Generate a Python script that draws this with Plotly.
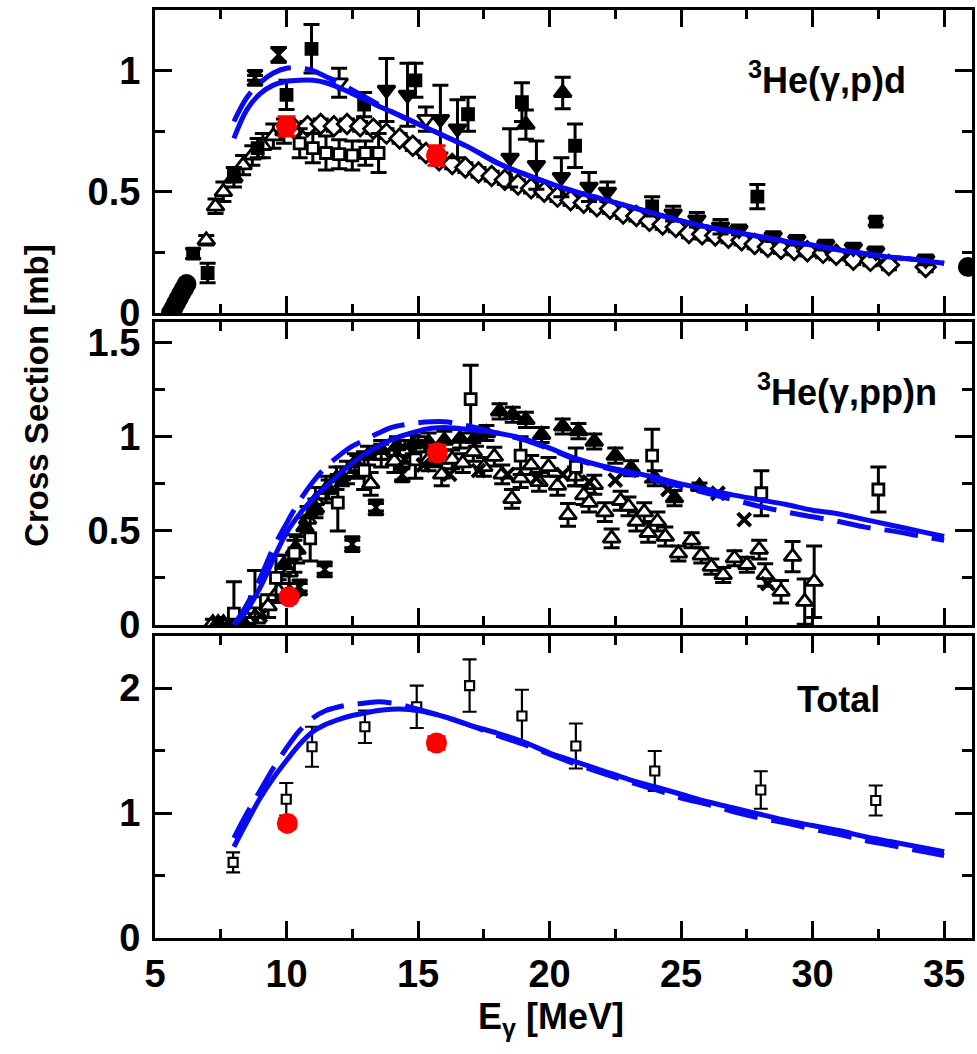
import plotly.graph_objects as go

# ---------------- Panel 1 : 3He(g,p)d ----------------
p1_fcirc_E = [5.6, 5.7, 5.8, 5.9, 6.0, 6.1, 6.2, 35.9]
p1_fcirc_v = [0.0, 0.02, 0.04, 0.06, 0.08, 0.10, 0.12, 0.19]

p1_fsq_E = [6.45, 7.0, 8.0, 8.9, 10.0, 10.95, 12.95, 14.9, 16.9, 18.95, 20.97, 23.9, 27.9, 32.4]
p1_fsq_v = [0.245, 0.165, 0.57, 0.68, 0.90, 1.09, 0.86, 0.96, 0.82, 0.87, 0.69, 0.44, 0.48, 0.377]
p1_fsq_e = [0.02, 0.04, 0.03, 0.04, 0.06, 0.10, 0.05, 0.07, 0.07, 0.08, 0.09, 0.04, 0.05, 0.015]

p1_otri_E = [6.95, 7.3, 7.6, 8.0, 8.35, 8.7, 9.1, 9.5, 9.9]
p1_otri_v = [0.30, 0.44, 0.50, 0.56, 0.61, 0.65, 0.69, 0.73, 0.75]
p1_otri_e = [0.02, 0.03, 0.04, 0.04, 0.04, 0.04, 0.05, 0.05, 0.05]

p1_hour_E = [8.8, 9.7]
p1_hour_v = [0.97, 1.065]
p1_hour_e = [0.01, 0.03]

p1_odtri_E = [12.0, 15.3]
p1_odtri_v = [0.95, 0.80]
p1_odtri_e = [0.06, 0.05]

p1_fdtri_E = [13.8, 14.6, 15.85, 16.5, 18.5, 19.5, 20.45, 21.5, 22.2, 24.7, 25.6, 26.5,
              27.2, 28.5, 29.4, 30.5, 31.55, 32.4, 34.3]
p1_fdtri_v = [0.92, 0.90, 0.80, 0.76, 0.64, 0.61, 0.56, 0.52, 0.50, 0.41, 0.385, 0.356,
              0.343, 0.315, 0.30, 0.28, 0.268, 0.252, 0.219]
p1_fdtri_e = [0.13, 0.13, 0.14, 0.12, 0.12, 0.10, 0.08, 0.06, 0.04, 0.03, 0.03, 0.03,
              0.02, 0.02, 0.02, 0.02, 0.02, 0.02, 0.02]

p1_futri_E = [19.1, 20.5]
p1_futri_v = [0.777, 0.908]
p1_futri_e = [0.06, 0.065]

p1_osq_E = [10.5, 11.0, 11.5, 12.0, 12.5, 13.0, 13.5]
p1_osq_v = [0.70, 0.68, 0.66, 0.655, 0.65, 0.66, 0.66]
p1_osq_e = [0.06, 0.06, 0.07, 0.06, 0.06, 0.05, 0.08]

p1_odia_E = [10.3, 10.8, 11.3, 11.8, 12.3, 12.8, 13.3, 13.8, 14.3, 14.8, 15.3, 15.8, 16.3,
             16.8, 17.3, 17.8, 18.3, 18.8, 19.3, 19.8, 20.3, 20.8, 21.3, 21.8, 22.3, 22.8,
             23.3, 23.8, 24.3, 24.8, 25.3, 25.8, 26.3, 26.8, 27.3, 27.8, 28.3, 28.8, 29.3,
             29.8, 30.4, 30.9, 31.55, 32.2, 32.9, 34.3]
p1_odia_v = [0.76, 0.77, 0.78, 0.77, 0.78, 0.77, 0.76, 0.74, 0.72, 0.69, 0.66, 0.63, 0.615,
             0.60, 0.58, 0.565, 0.55, 0.53, 0.515, 0.50, 0.48, 0.465, 0.455, 0.44, 0.43, 0.41,
             0.40, 0.38, 0.365, 0.355, 0.33, 0.325, 0.32, 0.31, 0.30, 0.285, 0.273, 0.265, 0.26,
             0.255, 0.248, 0.24, 0.22, 0.215, 0.198, 0.19]
p1_odia_e = [0.02] * len(p1_odia_E)

p1_red_E = [10.0, 15.7]
p1_red_v = [0.77, 0.65]
p1_red_e = [0.04, 0.04]

p1_solid_E = [8.0, 8.5, 9.0, 9.5, 10.0, 10.5, 11.0, 11.5, 12.0, 12.5, 13.0, 13.5, 14.0, 14.5,
              15.0, 16.0, 17.0, 18.0, 19.0, 20.0, 21.0, 22.0, 23.0, 24.0, 25.0, 26.0, 27.0,
              28.0, 29.0, 30.0, 31.0, 32.0, 33.0, 34.0, 35.0]
p1_solid_v = [0.72, 0.84, 0.905, 0.94, 0.955, 0.96, 0.96, 0.95, 0.93, 0.905, 0.88, 0.853, 0.83,
              0.805, 0.78, 0.73, 0.68, 0.62, 0.575, 0.535, 0.50, 0.47, 0.44, 0.41, 0.38, 0.355,
              0.335, 0.315, 0.295, 0.28, 0.26, 0.245, 0.23, 0.22, 0.205]
p1_dash_E = [8.0, 8.5, 9.0, 9.5, 10.0, 10.5, 11.0, 11.5, 12.0, 12.5, 13.0, 13.5, 14.0, 14.5,
             15.0, 16.0, 17.0, 18.0, 19.0, 20.0, 21.0, 22.0, 23.0, 24.0, 25.0, 26.0, 27.0,
             28.0, 29.0, 30.0, 31.0, 32.0, 33.0, 34.0, 35.0]
p1_dash_v = [0.79, 0.89, 0.95, 0.99, 1.01, 1.01, 1.0, 0.975, 0.95, 0.92, 0.89, 0.86, 0.83,
             0.805, 0.78, 0.73, 0.68, 0.62, 0.575, 0.535, 0.50, 0.47, 0.44, 0.41, 0.38, 0.355,
             0.335, 0.315, 0.295, 0.28, 0.26, 0.245, 0.23, 0.22, 0.205]

# ---------------- Panel 2 : 3He(g,pp)n ----------------
p2_otri_E = [7.2, 7.6, 8.1, 8.5, 8.9, 9.3, 9.7, 10.1, 10.4, 10.8, 11.1, 11.5, 11.9, 12.3, 12.7,
             13.2, 13.6, 14.1, 14.5, 15.0, 15.4, 15.9, 16.3, 16.7, 17.1, 17.5, 17.9, 18.2,
             18.57, 18.9, 19.3, 19.6, 19.96, 20.3, 20.7, 20.97, 21.3, 21.5, 21.7, 22.1, 22.36,
             22.7, 23.0, 23.3, 23.6, 23.75, 24.1, 24.4, 24.9, 25.4, 25.77, 26.15, 26.6, 27.03,
             27.5, 27.97, 28.2, 28.8, 29.24, 29.7, 30.06]
p2_otri_v = [0.01, 0.01, 0.02, 0.03, 0.06, 0.10, 0.18, 0.28, 0.40, 0.56, 0.66, 0.72, 0.78, 0.81,
             0.84, 0.75, 0.90, 0.87, 0.92, 0.94, 0.88, 0.80, 0.88, 0.86, 0.92, 0.84, 0.895, 0.80,
             0.67, 0.78, 0.85, 0.76, 0.84, 0.74, 0.585, 0.79, 0.69, 0.65, 0.745, 0.60, 0.46,
             0.66, 0.63, 0.55, 0.60, 0.49, 0.55, 0.47, 0.38, 0.45, 0.37, 0.31, 0.266, 0.355,
             0.32, 0.40, 0.266, 0.177, 0.363, 0.124, 0.23]
p2_otri_e = [0.02, 0.02, 0.03, 0.03, 0.05, 0.06, 0.06, 0.06, 0.07, 0.07, 0.07, 0.07, 0.06, 0.06,
             0.06, 0.06, 0.06, 0.06, 0.06, 0.06, 0.06, 0.06, 0.05, 0.05, 0.05, 0.05, 0.05, 0.05,
             0.05, 0.05, 0.05, 0.05, 0.05, 0.05, 0.06, 0.05, 0.05, 0.05, 0.05, 0.05, 0.05,
             0.05, 0.05, 0.05, 0.05, 0.05, 0.05, 0.05, 0.04, 0.04, 0.04, 0.04, 0.04, 0.04,
             0.04, 0.05, 0.06, 0.06, 0.08, 0.12, 0.19]

p2_ftri_E = [7.4, 7.9, 8.3, 9.9, 10.3, 10.7, 11.1, 11.6, 12.1, 12.6, 13.1, 13.6, 14.2, 14.8,
             15.4, 16.0, 16.6, 17.2, 17.6, 18.1, 18.6, 19.1, 19.7, 20.5, 21.1, 21.7, 22.5,
             23.1, 24.0, 24.75, 25.7]
p2_ftri_v = [0.01, 0.01, 0.02, 0.32, 0.40, 0.52, 0.62, 0.72, 0.79, 0.86, 0.90, 0.93, 0.95, 0.96,
             0.97, 0.98, 0.99, 1.00, 1.02, 1.135, 1.117, 1.09, 1.01, 1.055, 1.03, 0.975, 0.90,
             0.833, 0.78, 0.674, 0.735]
p2_ftri_e = [0.02, 0.02, 0.02, 0.05, 0.05, 0.05, 0.05, 0.05, 0.05, 0.05, 0.05, 0.05, 0.05, 0.05,
             0.05, 0.05, 0.05, 0.05, 0.04, 0.04, 0.04, 0.04, 0.04, 0.04, 0.04, 0.04, 0.04,
             0.04, 0.04, 0.04, 0.02]

p2_osq_E = [8.0, 8.8, 9.6, 10.3, 10.9, 11.95, 12.95, 14.9, 17.0, 18.9, 21.0, 23.9, 28.05, 32.5]
p2_osq_v = [0.06, 0.12, 0.25, 0.38, 0.46, 0.65, 0.82, 0.88, 1.20, 0.90, 0.84, 0.90, 0.70, 0.72]
p2_osq_e = [0.17, 0.17, 0.12, 0.10, 0.12, 0.15, 0.10, 0.10, 0.18, 0.10, 0.10, 0.14, 0.12, 0.12]

p2_hour_E = [10.5, 11.45, 12.5, 13.4, 14.4, 15.6]
p2_hour_v = [0.20, 0.295, 0.43, 0.625, 0.80, 0.88]
p2_hour_e = [0.02, 0.02, 0.02, 0.02, 0.03, 0.03]

p2_x_E = [9.0, 10.3, 14.5, 15.2, 16.2, 17.3, 18.4, 19.5, 20.5, 21.5, 22.5, 24.5, 26.4, 27.4, 28.3]
p2_x_v = [0.05, 0.18, 0.88, 0.85, 0.80, 0.82, 0.80, 0.78, 0.80, 0.76, 0.77, 0.72, 0.70, 0.56, 0.22]

p2_red_E = [10.1, 15.73]
p2_red_v = [0.15, 0.915]
p2_red_e = [0.0, 0.04]

p2_solid_E = [8.0, 8.5, 9.0, 9.5, 10.0, 10.5, 11.0, 11.5, 12.0, 12.5, 13.0, 13.5, 14.0, 14.5,
              15.0, 15.5, 16.0, 16.5, 17.0, 18.0, 19.0, 20.0, 21.0, 22.0, 23.0, 24.0, 25.0,
              26.0, 27.0, 28.0, 29.0, 30.0, 31.0, 32.0, 33.0, 34.0, 35.0]
p2_solid_v = [0.0, 0.08, 0.20, 0.35, 0.49, 0.59, 0.67, 0.735, 0.80, 0.86, 0.91, 0.95, 0.985,
              1.01, 1.03, 1.045, 1.05, 1.045, 1.037, 1.02, 0.99, 0.94, 0.885, 0.845, 0.815,
              0.785, 0.75, 0.72, 0.69, 0.665, 0.64, 0.61, 0.59, 0.56, 0.53, 0.50, 0.47]
p2_dash_E = [8.0, 8.5, 9.0, 9.5, 10.0, 10.5, 11.0, 11.5, 12.0, 12.5, 13.0, 13.5, 14.0, 14.5,
             15.0, 15.5, 16.0, 16.5, 17.0, 18.0, 19.0, 20.0, 21.0, 22.0, 23.0, 24.0, 25.0,
             26.0, 27.0, 28.0, 29.0, 30.0, 31.0, 32.0, 33.0, 34.0, 35.0]
p2_dash_v = [0.0, 0.11, 0.25, 0.41, 0.54, 0.66, 0.76, 0.84, 0.90, 0.95, 0.985, 1.02, 1.05,
             1.065, 1.075, 1.08, 1.08, 1.07, 1.055, 1.02, 0.985, 0.935, 0.88, 0.84, 0.805,
             0.77, 0.735, 0.70, 0.665, 0.63, 0.60, 0.575, 0.55, 0.52, 0.50, 0.475, 0.45]

# ---------------- Panel 3 : Total ----------------
p3_osq_E = [7.97, 9.99, 10.97, 12.98, 14.95, 16.96, 18.95, 21.0, 24.0, 28.03, 32.4]
p3_osq_v = [0.605, 1.11, 1.53, 1.69, 1.85, 2.02, 1.776, 1.536, 1.336, 1.184, 1.10]
p3_osq_e = [0.08, 0.13, 0.16, 0.13, 0.17, 0.21, 0.21, 0.18, 0.16, 0.15, 0.12]

p3_red_E = [10.03, 15.7]
p3_red_v = [0.917, 1.56]
p3_red_e = [0.04, 0.05]

p3_solid_E = [8.0, 8.5, 9.0, 9.5, 10.0, 10.5, 11.0, 11.5, 12.0, 12.5, 13.0, 13.5, 14.0, 14.5,
              15.0, 16.0, 17.0, 18.0, 19.0, 20.0, 21.0, 22.0, 23.0, 24.0, 25.0, 26.0, 27.0,
              28.0, 29.0, 30.0, 31.0, 32.0, 33.0, 34.0, 35.0]
p3_solid_v = [0.73, 0.93, 1.12, 1.28, 1.42, 1.55, 1.65, 1.71, 1.75, 1.78, 1.80, 1.82, 1.83, 1.83,
              1.82, 1.77, 1.70, 1.64, 1.57, 1.48, 1.41, 1.34, 1.27, 1.21, 1.15, 1.09, 1.04,
              0.99, 0.94, 0.90, 0.86, 0.81, 0.77, 0.73, 0.69]
p3_dash_E = p3_solid_E
p3_dash_v = [0.80, 1.00, 1.18, 1.36, 1.52, 1.66, 1.76, 1.82, 1.85, 1.87, 1.88, 1.89, 1.88, 1.86,
             1.83, 1.77, 1.70, 1.62, 1.55, 1.47, 1.39, 1.32, 1.25, 1.19, 1.12, 1.07, 1.01,
             0.96, 0.92, 0.87, 0.83, 0.78, 0.74, 0.70, 0.66]

# tick labels
x_tickvals = [5, 10, 15, 20, 25, 30, 35]
x_ticktext = ["5", "10", "15", "20", "25", "30", "35"]

BLUE = "#0a0af0"
fig = go.Figure()


def pts(E, v, err, ax, symbol, size, fill="black", lw=2.8, cap=8, th=3, ecolor="black"):
    kw = {}
    if err is not None:
        kw["error_y"] = dict(type="data", array=err, color=ecolor, thickness=th, width=cap)
    fig.add_trace(go.Scatter(
        x=E, y=v, xaxis="x" + ax, yaxis="y" + ax, mode="markers",
        marker=dict(symbol=symbol, size=size, color=fill,
                    line=dict(color=ecolor, width=lw)),
        showlegend=False, **kw))


def curve(E, v, ax, dash):
    fig.add_trace(go.Scatter(
        x=E, y=v, xaxis="x" + ax, yaxis="y" + ax, mode="lines",
        line=dict(color=BLUE, width=5, dash=dash, shape="spline"),
        showlegend=False))


DASH = "34px,14px"

# panel 1
pts(p1_odia_E, p1_odia_v, p1_odia_e, "", "diamond", 15, fill="white")
pts(p1_osq_E, p1_osq_v, p1_osq_e, "", "square", 11, fill="white")
pts(p1_otri_E, p1_otri_v, p1_otri_e, "", "triangle-up", 15, fill="white")
pts(p1_odtri_E, p1_odtri_v, p1_odtri_e, "", "triangle-down", 15, fill="white")
pts(p1_fdtri_E, p1_fdtri_v, p1_fdtri_e, "", "triangle-down", 15)
pts(p1_futri_E, p1_futri_v, p1_futri_e, "", "triangle-up", 15)
pts(p1_fsq_E, p1_fsq_v, p1_fsq_e, "", "square", 11)
pts(p1_hour_E, p1_hour_v, p1_hour_e, "", "hourglass", 15)
pts(p1_fcirc_E, p1_fcirc_v, None, "", "circle", 17)
curve(p1_solid_E, p1_solid_v, "", "solid")
curve(p1_dash_E, p1_dash_v, "", DASH)
pts(p1_red_E, p1_red_v, p1_red_e, "", "circle", 21, fill="red", lw=0, cap=9, th=3, ecolor="red")

# panel 2
pts(p2_otri_E, p2_otri_v, p2_otri_e, "2", "triangle-up", 15, fill="white")
pts(p2_ftri_E, p2_ftri_v, p2_ftri_e, "2", "triangle-up", 15)
pts(p2_osq_E, p2_osq_v, p2_osq_e, "2", "square", 11, fill="white")
pts(p2_hour_E, p2_hour_v, p2_hour_e, "2", "hourglass", 15)
pts(p2_x_E, p2_x_v, None, "2", "x-thin", 13, lw=4)
curve(p2_solid_E, p2_solid_v, "2", "solid")
curve(p2_dash_E, p2_dash_v, "2", DASH)
pts(p2_red_E, p2_red_v, p2_red_e, "2", "circle", 21, fill="red", lw=0, cap=9, ecolor="red")

# panel 3
pts(p3_osq_E, p3_osq_v, p3_osq_e, "3", "square", 9, fill="white", lw=2.2, cap=7, th=2.2)
curve(p3_solid_E, p3_solid_v, "3", "solid")
curve(p3_dash_E, p3_dash_v, "3", DASH)
pts(p3_red_E, p3_red_v, p3_red_e, "3", "circle", 21, fill="red", lw=0, cap=9, ecolor="red")

FONT = dict(family="Liberation Sans, Arial, sans-serif", size=38, color="black", weight="bold")

xcommon = dict(range=[5, 36.06], domain=[0, 1], showline=True, linewidth=3, linecolor="black",
               mirror="ticks", ticks="inside", ticklen=17, tickwidth=2.5, tickcolor="black",
               tickvals=x_tickvals, ticktext=x_ticktext,
               minor=dict(tickvals=[7.5, 12.5, 17.5, 22.5, 27.5, 32.5], ticks="inside",
                          ticklen=9, tickwidth=2.5, tickcolor="black"),
               showgrid=False, zeroline=False, tickfont=FONT)
ycommon = dict(showline=True, linewidth=3, linecolor="black", mirror="ticks", ticks="inside",
               ticklen=17, tickwidth=2.5, tickcolor="black", showgrid=False, zeroline=False,
               tickfont=FONT, ticklabelstandoff=4)

fig.update_layout(
    width=977, height=1054,
    margin=dict(l=155, r=2, t=10, b=116),
    paper_bgcolor="white", plot_bgcolor="white",
    xaxis=dict(**xcommon, anchor="y", showticklabels=False),
    xaxis2=dict(**xcommon, anchor="y2", matches="x", showticklabels=False),
    xaxis3=dict(**xcommon, anchor="y3", matches="x", showticklabels=True),
    yaxis=dict(**ycommon, anchor="x", domain=[0.6735, 1], range=[0, 1.25],
               tickvals=[0, 0.5, 1], ticktext=["0", "0.5", "1"],
               minor=dict(tickvals=[0.25, 0.75], ticks="inside", ticklen=10, tickwidth=2.5,
                          tickcolor="black")),
    yaxis2=dict(**ycommon, anchor="x2", domain=[0.3373, 0.6638], range=[0, 1.61],
                tickvals=[0, 0.5, 1, 1.5], ticktext=["0", "0.5", "1", "1.5"],
                minor=dict(tickvals=[0.25, 0.75, 1.25], ticks="inside", ticklen=10,
                           tickwidth=2.5, tickcolor="black")),
    yaxis3=dict(**ycommon, anchor="x3", domain=[0, 0.3254], range=[0, 2.416],
                tickvals=[0, 1, 2], ticktext=["0", "1", "2"],
                minor=dict(tickvals=[0.5, 1.5], ticks="inside", ticklen=10, tickwidth=2.5,
                           tickcolor="black")),
    annotations=[
        dict(text="Cross Section [mb]", x=-0.146, y=0.585, xref="paper", yref="paper",
             textangle=-90, showarrow=False, font=dict(FONT, size=33),
             xanchor="center", yanchor="middle"),
        dict(text="E<sub>γ</sub> [MeV]", x=0.485, y=-0.087, xref="paper", yref="paper",
             showarrow=False, font=dict(FONT, size=36), xanchor="center", yanchor="middle"),
        dict(text="<sup>3</sup>He(γ,p)d", x=0.822, y=0.927, xref="paper", yref="paper",
             showarrow=False, font=dict(FONT, size=36), xanchor="center", yanchor="middle"),
        dict(text="<sup>3</sup>He(γ,pp)n", x=0.8476, y=0.5905, xref="paper", yref="paper",
             showarrow=False, font=dict(FONT, size=36), xanchor="center", yanchor="middle"),
        dict(text="Total", x=0.8366, y=0.2565, xref="paper", yref="paper",
             showarrow=False, font=dict(FONT, size=36), xanchor="center", yanchor="middle"),
    ],
)

fig.write_html("out.html")
